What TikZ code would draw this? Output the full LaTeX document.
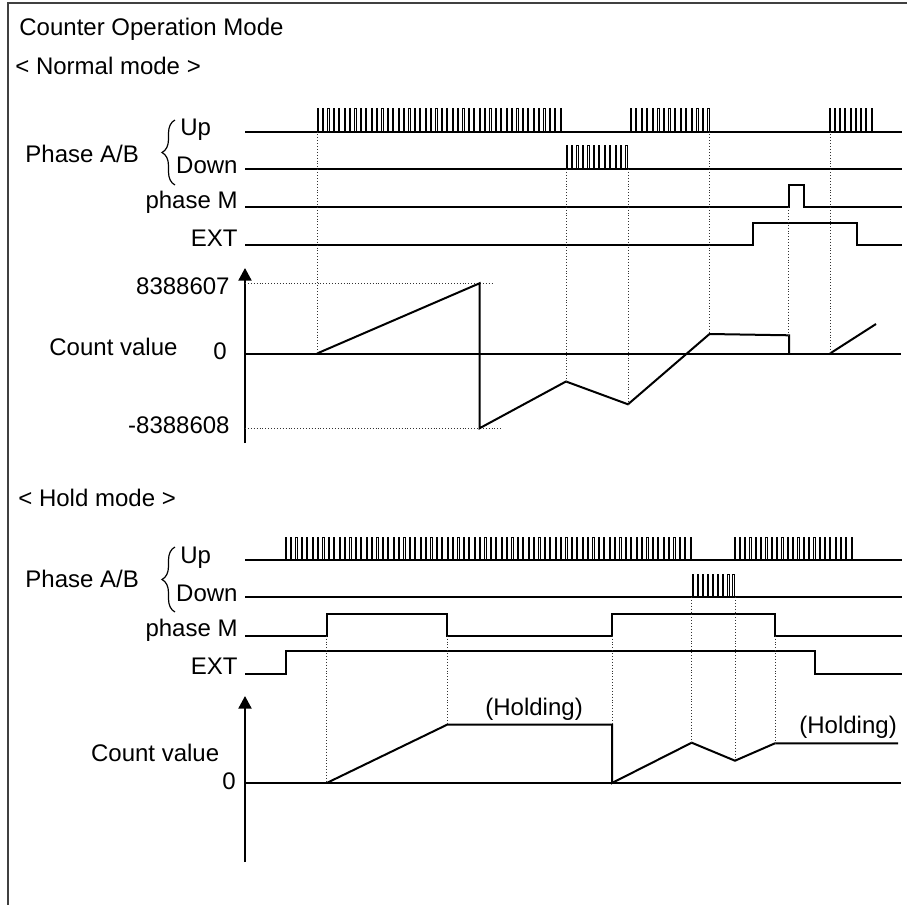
\documentclass[tikz,border=0pt]{standalone}
\usepackage{fontspec}
\setmainfont{Liberation Sans}
\usetikzlibrary{arrows.meta,decorations.pathreplacing}

\tikzset{
	sig/.style={line width=1pt},
	pulse/.style={line width=0.5pt},
	guide/.style={densely dotted, line width=0.45pt, black!80},
	axis/.style={line width=1pt},
	lbl/.style={inner sep=0pt, font=\fontsize{12}{14}\selectfont},
	brc/.style={decorate, decoration={brace, amplitude=6.5pt}, line width=0.6pt}
}

\begin{document}
\begin{tikzpicture}[x=0.5pt, y=-0.5pt]
				\useasboundingbox (0,0) rectangle (907,905);
				
				% Frame
				\draw[line width=0.9pt, black!75] (907,3) -- (8,3) -- (8,905);
				
				% Titles
				\node[lbl, anchor=base west] (title) at (19,35.5) {Counter Operation Mode};
				\node[lbl, anchor=base west] (normal) at (15,74.5) {< Normal mode >};
				\node[lbl, anchor=base west] (hold) at (18,506.7) {< Hold mode >};
				
				% ---------- Normal mode ----------
				% Define coordinates
				\coordinate (O) at (245,353.5);
				\coordinate (Otop) at (245,268);
				\coordinate (Obot) at (245,443);
				
				% Signal names
				\node[lbl, anchor=base west] (nUp) at (180,135) {Up};
				\node[lbl, anchor=base west] (nAB) at (25,162) {Phase A/B};
				\node[lbl, anchor=base east] (nDown) at (238,173) {Down};
				\node[lbl, anchor=base east] (nM) at (238,208.3) {phase M};
				\node[lbl, anchor=base east] (nExt) at (238,246.7) {EXT};
				\draw[brc] (175,185) -- (175,120);
				
				% Up
				\draw[sig] (245,131.5) -- (902,131.5);
				\foreach \k in {0,...,45}
					\draw[pulse] ({317+\k*5.4},131.5) -- ++(0,-23.5) -- ++(1.2,0) -- ++(0,23.5);
				\foreach \k in {0,...,14}
					\draw[pulse] ({630+\k*5.57},131.5) -- ++(0,-23.5) -- ++(1.2,0) -- ++(0,23.5);
				\foreach \k in {0,...,8}
					\draw[pulse] ({829+\k*5.25},131.5) -- ++(0,-23.5) -- ++(1.2,0) -- ++(0,23.5);
				
				% Down
				\draw[sig] (245,169) -- (902,169);
				\foreach \k in {0,...,11}
					\draw[pulse] ({566+\k*5.45},169) -- ++(0,-23.3) -- ++(1.2,0) -- ++(0,23.3);
				
				% phase M and EXT
				\draw[sig] (245,207.3) -- (788.5,207.3) -- (788.5,185) -- (804,185) -- (804,207.3) -- (902,207.3);
				\draw[sig] (245,245.3) -- (753,245.3) -- (753,222.7) -- (857,222.7) -- (857,245.3) -- (902,245.3);
				
				% Count value
				\node[lbl, anchor=base east] (nMax) at (230,294) {8388607};
				\node[lbl, anchor=base west] (nCnt) at (49,355) {Count value};
				\node[lbl, anchor=base east] (nZero) at (227,359.3) {0};
				\node[lbl, anchor=base east] (nMin) at (230,433.3) {-8388608};
				\draw[axis, -{Triangle[width=6.5pt,length=6.3pt]}] (Obot) -- (Otop);
				\draw[axis] (O) -- (901,353.5);
				\draw[guide] (245,283.3) -- (492,283.3);
				\draw[guide] (245,428.3) -- (503,428.3);
				\draw[sig] (317,353.5) -- (479.5,283.3) -- (479.5,428.3) -- (566,381.5) -- (628,404.3)
					-- (709.5,334) -- (789,335.3) -- (789,353.5);
				\draw[sig] (830,353.5) -- (876,324);
				
				% Guides
				\draw[guide] (317,131.5) -- (317,353.5);
				\draw[guide] (566,169) -- (566,381.5);
				\draw[guide] (628,169) -- (628,404.3);
				\draw[guide] (709.5,131.5) -- (709.5,334);
				\draw[guide] (788.5,207.3) -- (788.5,335);
				\draw[guide] (830,131.5) -- (830,353.5);
				
				% ---------- Hold mode ----------
				\coordinate (O1) at (245,783);
				\coordinate (O1top) at (245,696);
				\coordinate (O1bot) at (245,862);
				
				% Signal names
				\node[lbl, anchor=base west] (hUp) at (180,563) {Up};
				\node[lbl, anchor=base west] (hAB) at (25,587) {Phase A/B};
				\node[lbl, anchor=base east] (hDown) at (238,601.7) {Down};
				\node[lbl, anchor=base east] (hM) at (238,636.7) {phase M};
				\node[lbl, anchor=base east] (hExt) at (238,674) {EXT};
				\draw[brc] (175,612) -- (175,547);
				
				% Up
				\draw[sig] (245,559.5) -- (902,559.5);
				\foreach \k in {0,...,75}
					\draw[pulse] ({285+\k*5.4},559.5) -- ++(0,-22) -- ++(1.2,0) -- ++(0,22);
				\foreach \k in {0,...,22}
					\draw[pulse] ({734+\k*5.32},559.5) -- ++(0,-22) -- ++(1.2,0) -- ++(0,22);
				
				% Down
				\draw[sig] (245,597) -- (902,597);
				\foreach \k in {0,...,8}
					\draw[pulse] ({692+\k*5.12},597) -- ++(0,-23) -- ++(1.2,0) -- ++(0,23);
				
				% phase M and EXT
				\draw[sig] (245,635.7) -- (326.7,635.7) -- (326.7,613.5) -- (447,613.5) -- (447,635.7)
					-- (611.5,635.7) -- (611.5,614) -- (775,614) -- (775,635.7) -- (902,635.7);
				\draw[sig] (245,673.5) -- (286,673.5) -- (286,651) -- (815,651) -- (815,674) -- (902,674);
				
				% Count value
				\node[lbl, anchor=base west] (hCnt) at (90.7,761) {Count value};
				\node[lbl, anchor=base east] (hZero) at (236,789) {0};
				\node[lbl, anchor=base west] (hHold1) at (485,715) {(Holding)};
				\node[lbl, anchor=base west] (hHold2) at (799,733) {(Holding)};
				\draw[axis, -{Triangle[width=6.5pt,length=6.3pt]}] (O1bot) -- (O1top);
				\draw[axis] (O1) -- (901,783);
				\draw[sig] (326.7,783) -- (447.5,724.5) -- (612,724.5) -- (612,783) -- (691.7,742.7)
					-- (735,760.7) -- (775,743.3) -- (898,743.3);
				
				% Guides
				\draw[guide] (326.7,635.7) -- (326.7,783);
				\draw[guide] (447,635.7) -- (447,724.5);
				\draw[guide] (612,635.7) -- (612,724.5);
				\draw[guide] (691.7,597) -- (691.7,742.7);
				\draw[guide] (735,597) -- (735,760.7);
				\draw[guide] (775,635.7) -- (775,743.3);
			\end{tikzpicture}
\end{document}
